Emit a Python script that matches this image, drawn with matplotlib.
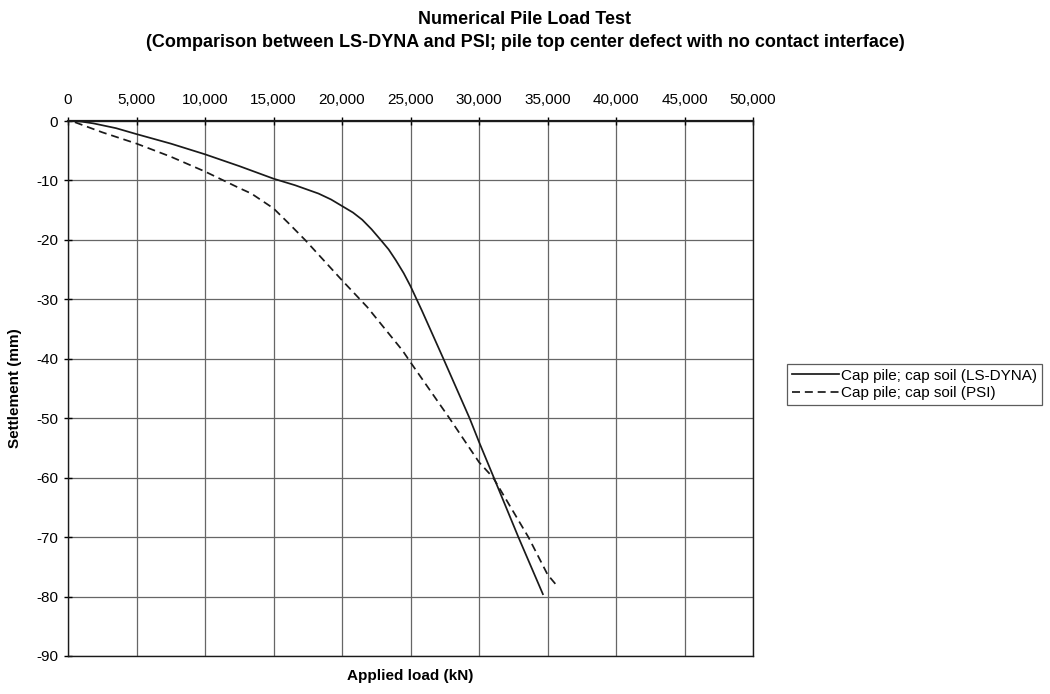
import matplotlib
matplotlib.use("Agg")
import matplotlib.pyplot as plt
from matplotlib.ticker import FuncFormatter

plt.rcParams['font.family'] = ['Liberation Sans', 'DejaVu Sans']
plt.rcParams['axes.unicode_minus'] = False

# LS-DYNA curve (load kN, settlement mm)
lsdyna_load = [300, 1000, 1860, 3500, 5000, 7500, 10000, 12520, 15000, 16570, 18280, 19200,
               20000, 20800, 21470, 22150, 22820, 23400, 23920, 24500, 25000, 25830,
               27400, 29310, 30000, 31080, 32870, 34660]
lsdyna_settle = [0, -0.1, -0.4, -1.2, -2.2, -3.8, -5.6, -7.6, -9.7, -10.8, -12.2, -13.2,
                 -14.3, -15.4, -16.6, -18.2, -20.0, -21.6, -23.4, -25.6, -27.8, -31.9,
                 -40.0, -50.0, -54.0, -60.0, -70.0, -79.6]

# PSI curve
psi_load = [500, 2500, 5000, 7500, 10000, 12520, 13380, 15000, 16100, 17300, 20000, 21840,
            24410, 25000, 27840, 30000, 31030, 33600, 35000, 35690]
psi_settle = [-0.2, -1.9, -3.8, -6.0, -8.5, -11.3, -12.2, -14.7, -17.2, -20.0, -26.8, -31.3,
              -38.6, -40.6, -50.0, -57.4, -60.0, -70.0, -76.3, -78.2]

x_ticks = list(range(0, 50001, 5000))
y_ticks = list(range(0, -91, -10))

fig = plt.figure(figsize=(10.5, 6.94), dpi=100)
ax = fig.add_axes([0.0648, 0.0548, 0.6524, 0.7708])

ax.plot(lsdyna_load, lsdyna_settle, color='#1a1a1a', lw=1.25, label='Cap pile; cap soil (LS-DYNA)',
        solid_joinstyle='round')
ax.plot(psi_load, psi_settle, color='#1a1a1a', lw=1.25, ls=(0, (4.6, 2.8)), label='Cap pile; cap soil (PSI)')

ax.set_xlim(0, 50000)
ax.set_ylim(-90, 0)
ax.set_xticks(x_ticks)
ax.set_yticks(y_ticks)
ax.xaxis.set_major_formatter(FuncFormatter(lambda v, p: f"{int(v):,}"))
ax.xaxis.tick_top()
ax.tick_params(axis='x', direction='inout', length=6, labelsize=11, pad=7, width=1)
ax.tick_params(axis='y', direction='inout', length=6, labelsize=11, width=1, pad=4)
ax.grid(True, color='#666666', lw=0.9)
for s in ax.spines.values():
    s.set_color('#1a1a1a')
    s.set_linewidth(1.0)
ax.spines['top'].set_linewidth(1.6)

ax.set_ylabel('Settlement (mm)', fontsize=11, fontweight='bold', labelpad=10)
fig.text(0.3910, 0.016, 'Applied load (kN)', ha='center', va='bottom', fontsize=11, fontweight='bold')

fig.text(0.5, 0.972, 'Numerical Pile Load Test', ha='center', va='center', fontsize=13, fontweight='bold')
fig.text(0.5, 0.939, '(Comparison between LS-DYNA and PSI; pile top center defect with no contact interface)',
         ha='center', va='center', fontsize=13, fontweight='bold')

leg = fig.legend(loc='upper left', bbox_to_anchor=(0.7495, 0.4755), fontsize=11, frameon=True,
                 fancybox=False, edgecolor='#333333', handlelength=3.1, borderpad=0.3,
                 labelspacing=0.25, handletextpad=0.15, borderaxespad=0)
leg.get_frame().set_linewidth(0.9)

fig.savefig('out.png', dpi=100)
